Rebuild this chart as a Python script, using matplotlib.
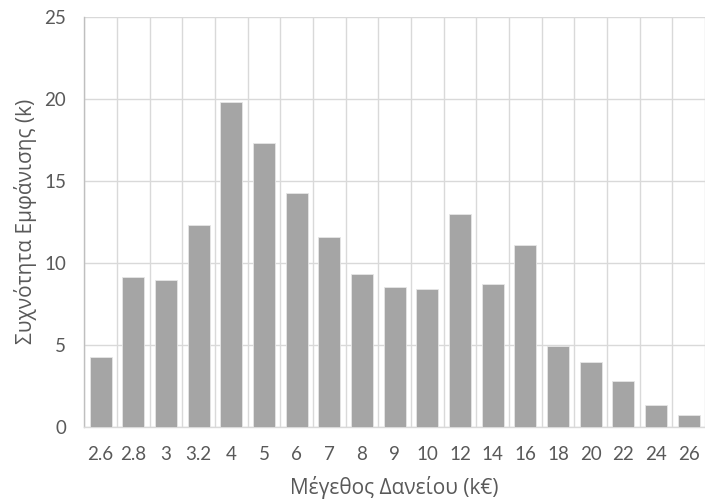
import matplotlib
matplotlib.use("Agg")
import matplotlib.pyplot as plt
import numpy as np

plt.rcParams['font.family'] = ['Lato', 'Open Sans', 'DejaVu Sans']
label_family = ['Open Sans', 'DejaVu Sans']

loan_sizes = ["2.6", "2.8", "3", "3.2", "4", "5", "6", "7", "8", "9",
              "10", "12", "14", "16", "18", "20", "22", "24", "26"]
frequency_k = [4.25, 9.15, 8.96, 12.28, 19.78, 17.32, 14.27, 11.55, 9.29, 8.54,
               8.40, 12.97, 8.68, 11.06, 4.94, 3.93, 2.77, 1.34, 0.71]
y_ticks = [0, 5, 10, 15, 20, 25]

text_color = "#595959"
grid_color = "#d9d9d9"

fig = plt.figure(figsize=(7.05, 5.03), dpi=100)
ax = fig.add_axes([0.1196, 0.1517, 0.8804, 0.8151])

x = np.arange(len(loan_sizes))
ax.bar(x, frequency_k, width=0.67, color="#a5a5a5", edgecolor="#e6e6e6",
       linewidth=0.6, zorder=3)

ax.set_xlim(-0.5, len(loan_sizes) - 0.5)
ax.set_ylim(0, 25)
ax.set_yticks(y_ticks)
ax.set_xticks(x)
ax.set_xticklabels(loan_sizes)
ax.set_xticks(np.arange(len(loan_sizes) + 1) - 0.5, minor=True)

ax.grid(axis="y", which="major", color=grid_color, linewidth=1.0, zorder=0)
ax.grid(axis="x", which="minor", color=grid_color, linewidth=1.0, zorder=0)
ax.grid(axis="x", which="major", visible=False)

for side in ["top", "right"]:
    ax.spines[side].set_visible(False)
ax.spines["left"].set_color("#bfbfbf")
ax.spines["bottom"].set_color(grid_color)
ax.spines["left"].set_linewidth(1.0)
ax.spines["bottom"].set_linewidth(1.0)

ax.tick_params(axis="both", which="both", length=0, colors=text_color,
               labelsize=13.5)
ax.tick_params(axis="y", pad=13)
ax.tick_params(axis="x", pad=14)

ax.set_xlabel("Μέγεθος Δανείου (k€)", fontsize=15, family=label_family,
              color=text_color, labelpad=9)
ax.set_ylabel("Συχνότητα Εμφάνισης (k)", fontsize=15, family=label_family,
              color=text_color, labelpad=5)

fig.savefig("out.png", dpi=100)
